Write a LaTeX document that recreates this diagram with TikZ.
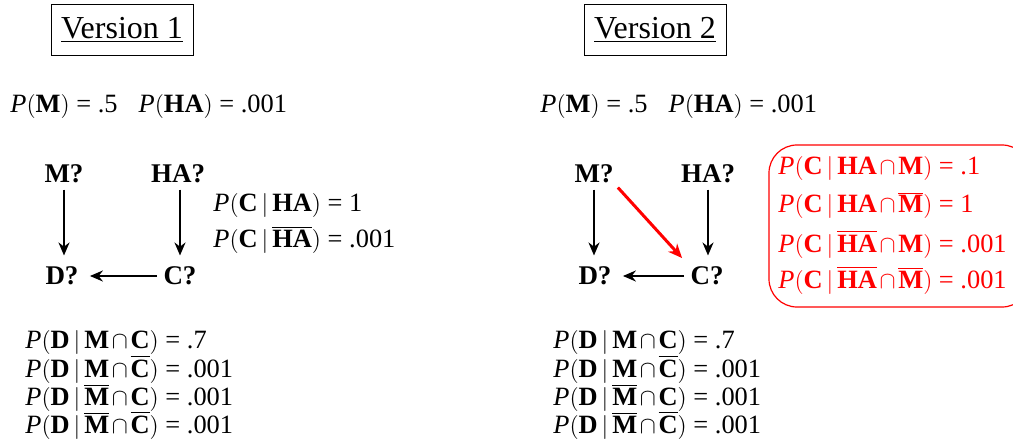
\documentclass[tikz,border=0pt]{standalone}
\usepackage{fontspec}
\setmainfont{Liberation Serif}
\usetikzlibrary{arrows.meta}
\newcommand\Pb{\textit{P}}
\newcommand\lp{$\bigl($}
\newcommand\rp{$\bigr)$}
\newcommand\given{$\mskip3mu\big|\mskip3mu$}
\newcommand\nt[1]{$\overline{\mbox{\textbf{#1}}}$}
\newcommand\ca{$\mskip2mu\cap\mskip2mu$}
\newcommand\bb[1]{\textbf{#1}}
\begin{document}
\begin{tikzpicture}[x=0.5pt,y=-0.5pt,
  eq/.style={anchor=base west,inner sep=0pt,font=\fontsize{13.2}{15}\selectfont},
  var/.style={inner sep=2pt,font=\fontsize{13.5}{15}\selectfont\bfseries},
  vbox/.style={draw,line width=0.5pt,minimum width=71pt,minimum height=25.5pt,inner sep=0pt,font=\fontsize{16}{18}\selectfont},
  arr/.style={-{Stealth[length=6.5pt,width=5.5pt]},line width=1pt,shorten >=3.5pt,shorten <=1pt},
  redarr/.style={-{Stealth[length=7pt,width=6pt]},line width=1.5pt,red,shorten >=3pt,shorten <=0pt}]
\useasboundingbox (0,0) rectangle (1013,444);
% Version 1
\node[vbox] (v1) at (122,30) {\underline{Version 1}};
\node[eq] (pr1) at (10,113) {\Pb\lp\bb{M}\rp{} = .5\hspace{0.8em}\Pb\lp\bb{HA}\rp{} = .001};
\node[var] (m1) at (64,174) {M?};
\node[var] (h1) at (178,174) {HA?};
\node[var] (d1) at (62,276) {D?};
\node[var] (c1) at (180,276) {C?};
\draw[arr] (m1.south) -- (m1.south |- d1.north);
\draw[arr] (h1.south -| c1) -- (c1.north);
\draw[arr] (c1.west) -- (d1.east);
\node[eq] (ch1) at (213,212) {\Pb\lp\bb{C}\given\bb{HA}\rp{} = 1};
\node[eq] (ch2) at (213,248) {\Pb\lp\bb{C}\given\nt{HA}\rp{} = .001};
\node[eq] (dl1) at (25,348) {\Pb\lp\bb{D}\given\bb{M}\ca\bb{C}\rp{} = .7};
\node[eq] (dl2) at (25,377) {\Pb\lp\bb{D}\given\bb{M}\ca\nt{C}\rp{} = .001};
\node[eq] (dl3) at (25,405) {\Pb\lp\bb{D}\given\nt{M}\ca\bb{C}\rp{} = .001};
\node[eq] (dl4) at (25,433) {\Pb\lp\bb{D}\given\nt{M}\ca\nt{C}\rp{} = .001};
% Version 2
\node[vbox] (v2) at (655,30) {\underline{Version 2}};
\node[eq] (pr2) at (540,113) {\Pb\lp\bb{M}\rp{} = .5\hspace{0.8em}\Pb\lp\bb{HA}\rp{} = .001};
\node[var] (m2) at (594,174) {M?};
\node[var] (h2) at (708,174) {HA?};
\node[var] (d2) at (595,276) {D?};
\node[var] (c2) at (707,276) {C?};
\draw[arr] (m2.south) -- (m2.south |- d2.north);
\draw[arr] (h2.south) -- (h2.south |- c2.north);
\draw[arr] (c2.west) -- (d2.east);
\draw[redarr] (m2.south east) -- (c2.north west);
\draw[red,line width=0.6pt,rounded corners=14pt] (769,145) rectangle (1030,307);
\node[eq,red] (r1) at (778,175) {\Pb\lp\bb{C}\given\bb{HA}\ca\bb{M}\rp{} = .1};
\node[eq,red] (r2) at (778,213) {\Pb\lp\bb{C}\given\bb{HA}\ca\nt{M}\rp{} = 1};
\node[eq,red] (r3) at (778,252) {\Pb\lp\bb{C}\given\nt{HA}\ca\bb{M}\rp{} = .001};
\node[eq,red] (r4) at (778,288) {\Pb\lp\bb{C}\given\nt{HA}\ca\nt{M}\rp{} = .001};
\node[eq] (el1) at (553,348) {\Pb\lp\bb{D}\given\bb{M}\ca\bb{C}\rp{} = .7};
\node[eq] (el2) at (553,377) {\Pb\lp\bb{D}\given\bb{M}\ca\nt{C}\rp{} = .001};
\node[eq] (el3) at (553,405) {\Pb\lp\bb{D}\given\nt{M}\ca\bb{C}\rp{} = .001};
\node[eq] (el4) at (553,433) {\Pb\lp\bb{D}\given\nt{M}\ca\nt{C}\rp{} = .001};
\end{tikzpicture}
\end{document}
